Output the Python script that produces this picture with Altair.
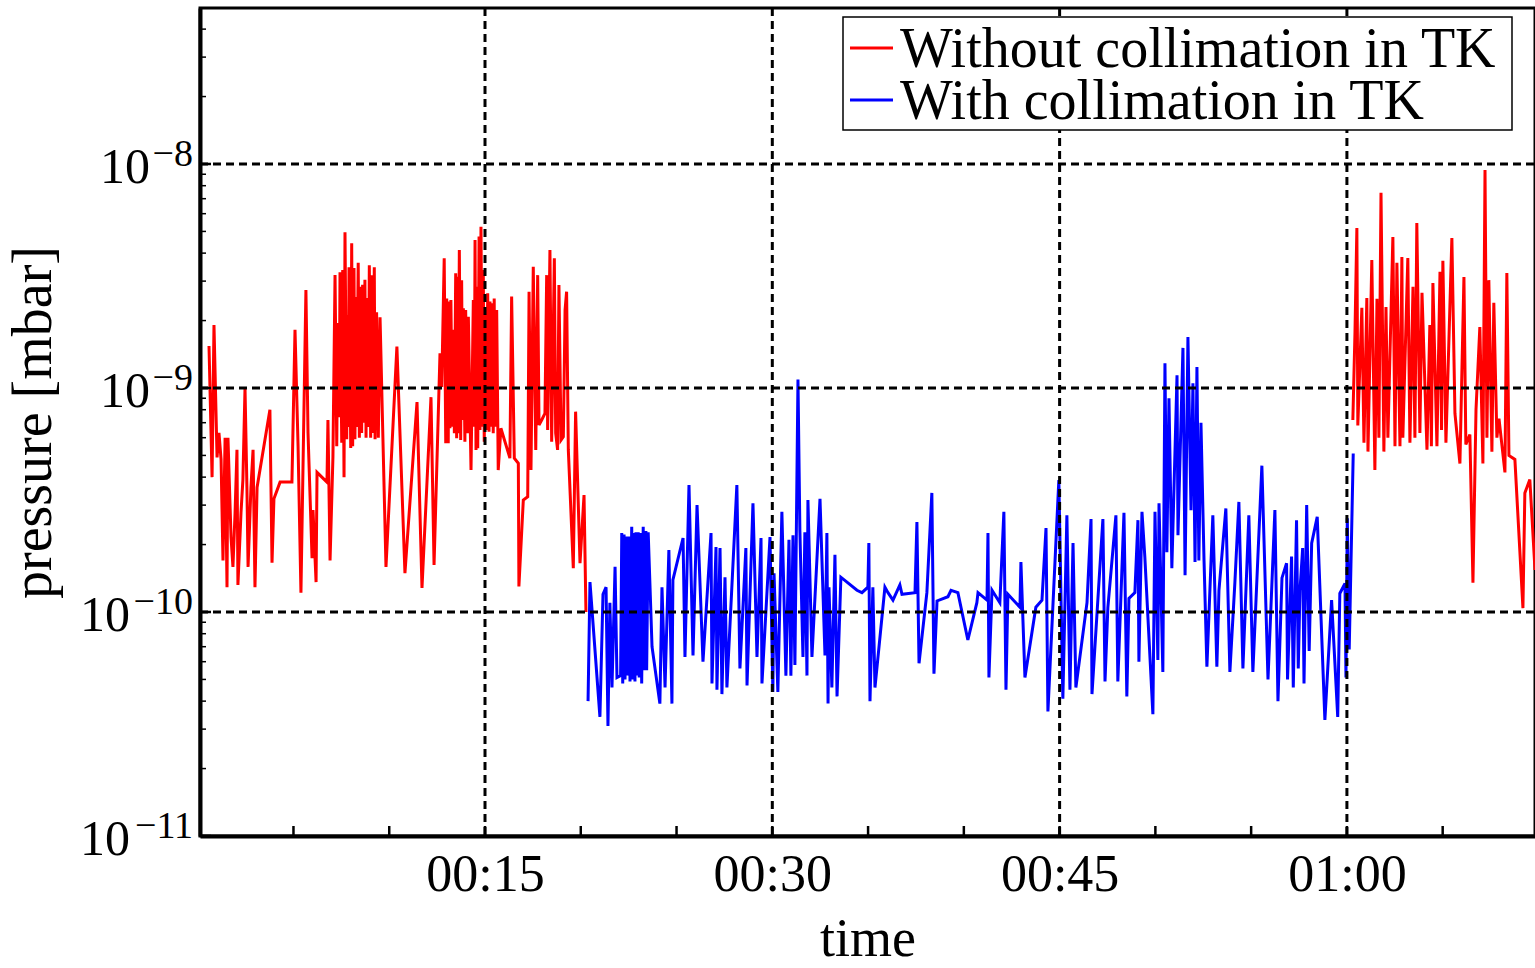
import altair as alt
import pandas as pd

# ---------------- data (time in minutes, pressure in units of 1e-10 mbar) ----------------
P_UNIT = 1e-10
series_names = ["Without collimation in TK", "With collimation in TK"]
series_colors = ["#ff0000", "#0000ff"]

red_a = [
    (0.59, 15.4), (0.75, 4.0), (0.85, 19.1), (1.01, 4.9), (1.11, 6.3), (1.22, 4.8), (1.32, 1.7), (1.43, 6.0), (1.53, 1.29), (1.58, 6.0),
    (1.74, 2.16), (1.84, 1.59), (1.95, 2.77), (2.05, 5.3), (2.10, 1.32), (2.26, 2.77), (2.36, 3.9), (2.47, 10.0), (2.57, 3.6), (2.63, 1.59),
    (2.78, 3.6), (2.89, 5.3), (2.99, 1.29), (3.10, 3.6), (3.77, 8.0), (3.88, 1.66), (3.98, 3.2), (4.30, 3.8), (4.92, 3.8), (5.08, 18.2),
    (5.24, 5.5), (5.39, 1.22), (5.65, 27.4), (5.76, 6.3), (5.97, 1.74), (6.02, 2.85), (6.18, 1.36), (6.23, 4.2), (6.75, 3.8), (6.80, 7.2),
    (6.91, 1.7), (7.06, 4.9),
    (7.17, 31.9), (7.26, 5.5), (7.31, 19.5), (7.39, 7.4), (7.43, 32.9), (7.52, 5.7), (7.57, 33.6), (7.64, 4.0), (7.69, 49.6), (7.78, 5.9),
    (7.81, 21.1), (7.86, 6.7), (7.90, 34.6), (7.99, 5.4), (8.04, 44.3), (8.09, 5.5), (8.16, 34.3), (8.21, 5.9), (8.26, 25.5), (8.30, 6.7),
    (8.38, 36.2), (8.44, 6.0), (8.51, 28.3), (8.56, 6.3), (8.61, 28.9), (8.68, 7.0), (8.73, 30.4), (8.79, 6.0), (8.82, 25.2), (8.91, 6.7),
    (8.96, 35.3), (9.03, 6.0), (9.08, 31.9), (9.14, 6.3), (9.22, 34.6), (9.26, 5.9), (9.34, 21.8), (9.43, 6.0), (9.52, 20.7),
    (9.83, 1.59), (10.40, 15.3), (10.82, 1.49), (11.45, 8.66), (11.71, 1.28), (12.18, 9.1), (12.34, 1.62), (12.65, 14.3),
    (12.74, 10.1), (12.87, 37.9), (12.95, 5.67), (13.00, 25.1), (13.08, 5.67), (13.12, 24.3), (13.17, 6.61), (13.22, 24.7), (13.29, 6.72), (13.34, 18.2),
    (13.40, 6.28), (13.47, 32.5), (13.52, 5.96), (13.57, 31.4), (13.60, 6.28), (13.66, 41.3), (13.73, 5.86), (13.78, 30.3), (13.83, 7.2), (13.87, 22.7),
    (13.95, 5.76), (13.99, 22.3), (14.10, 6.28), (14.13, 20.8), (14.27, 4.3), (14.39, 24.7), (14.44, 6.72), (14.48, 45.8), (14.53, 5.29), (14.57, 28.3),
    (14.62, 5.38), (14.69, 47.4), (14.74, 6.49), (14.79, 52.5), (14.86, 6.72), (14.91, 33.6), (14.96, 5.76), (15.04, 22.3), (15.09, 6.49), (15.14, 26.5),
    (15.21, 6.38), (15.26, 24.3), (15.31, 6.72), (15.38, 23.9), (15.43, 6.28), (15.48, 25.1), (15.52, 6.72), (15.61, 22.3), (15.69, 4.3), (15.83, 6.61),
    (16.30, 4.86), (16.39, 25.6), (16.53, 4.86), (16.74, 4.61), (16.77, 1.30), (17.00, 3.16), (17.23, 3.27), (17.30, 26.9), (17.40, 4.3), (17.52, 34.8),
    (17.65, 5.29), (17.75, 31.9), (17.82, 6.84), (17.96, 7.2), (18.13, 7.71), (18.22, 31.9), (18.27, 6.49), (18.39, 41.3), (18.48, 5.76), (18.62, 37.9),
    (18.69, 6.28), (18.79, 5.29), (18.86, 28.8), (18.97, 5.86), (19.09, 6.06), (19.18, 22.3), (19.26, 26.9), (19.35, 5.29), (19.61, 1.57), (19.73, 7.84),
    (19.96, 1.65), (20.17, 3.33), (20.27, 1.0),
]

blue = [
    (20.38, 0.40), (20.48, 1.36), (21.00, 0.34), (21.16, 1.20), (21.32, 1.29), (21.42, 0.31), (21.52, 1.10), (21.63, 0.46), (21.79, 1.59), (21.89, 0.51),
    (22.08, 0.52), (22.14, 2.25), (22.19, 0.48), (22.26, 2.22), (22.31, 0.50), (22.40, 2.17), (22.43, 0.52), (22.53, 2.17), (22.57, 0.49), (22.66, 2.40),
    (22.71, 0.50), (22.78, 2.25), (22.83, 0.49), (22.88, 2.27), (22.95, 0.52), (23.00, 2.27), (23.05, 0.51), (23.13, 2.25), (23.18, 0.48), (23.26, 2.40),
    (23.30, 0.55), (23.40, 2.30), (23.44, 0.55), (23.52, 2.27),
    (23.72, 0.70), (24.13, 0.39), (24.24, 1.29), (24.40, 0.46), (24.60, 1.89), (24.76, 0.39), (24.81, 1.39), (25.34, 2.14), (25.44, 0.63), (25.65, 3.69),
    (25.86, 0.64), (26.07, 3.0), (26.38, 0.60), (26.80, 2.25), (26.85, 0.48), (27.06, 1.95), (27.11, 0.45), (27.27, 1.93), (27.37, 0.43), (27.53, 1.43),
    (27.63, 0.46), (28.15, 3.69), (28.31, 0.56), (28.62, 1.93), (28.68, 0.47), (28.99, 3.06), (29.20, 0.63), (29.41, 2.14), (29.46, 0.48), (29.88, 2.16),
    (30.03, 0.44), (30.09, 1.49), (30.29, 0.44), (30.50, 2.8), (30.71, 0.52), (30.87, 2.1), (30.97, 0.52), (31.08, 2.2), (31.18, 0.58), (31.34, 10.9),
    (31.44, 2.3), (31.60, 0.63), (31.70, 2.27), (31.81, 0.52), (31.86, 3.16), (32.07, 0.63), (32.49, 3.2), (32.75, 0.64), (32.85, 2.25), (32.91, 0.39),
    (32.96, 1.29), (33.11, 0.46), (33.27, 1.8), (33.38, 0.42), (33.58, 1.43), (34.42, 1.25), (34.68, 1.22), (34.99, 1.29), (35.04, 2.03), (35.10, 0.40),
    (35.25, 1.29), (35.36, 0.46), (35.88, 1.29), (36.04, 1.22), (36.30, 1.13), (36.66, 1.32), (36.77, 1.20), (37.45, 1.22), (37.55, 2.52), (37.66, 0.59),
    (38.07, 1.22), (38.33, 3.4), (38.44, 0.53), (38.60, 1.12), (39.17, 1.17), (39.33, 1.25), (39.69, 1.22), (40.21, 0.75), (40.68, 1.10), (40.74, 1.22),
    (41.21, 1.13), (41.26, 2.25), (41.31, 0.51), (41.47, 1.25), (41.88, 1.10), (42.09, 2.8), (42.20, 0.45), (42.30, 1.20), (42.93, 1.05), (42.98, 1.67),
    (43.19, 0.51), (43.76, 1.05), (44.08, 1.13), (44.29, 2.37), (44.39, 0.36), (44.96, 3.88), (45.17, 0.41), (45.38, 2.7), (45.54, 0.45), (45.70, 2.03),
    (45.85, 0.46), (46.43, 1.10), (46.64, 2.6), (46.69, 0.43), (47.26, 2.6), (47.37, 0.49), (47.52, 1.05), (47.94, 2.7), (48.04, 0.49), (48.36, 2.77),
    (48.51, 0.42), (48.62, 1.15), (48.93, 1.22), (49.09, 2.57), (49.14, 0.60), (49.30, 2.8), (49.45, 1.76), (49.87, 0.35), (49.98, 2.8), (50.13, 0.61),
    (50.19, 3.06), (50.39, 0.54), (50.50, 12.9), (50.60, 1.85), (50.71, 9.0), (50.86, 1.57), (51.13, 11.4), (51.18, 2.2), (51.44, 15.1), (51.55, 1.46),
    (51.70, 16.9), (51.86, 2.85), (51.96, 10.5), (52.07, 1.67), (52.17, 12.4), (52.27, 1.70), (52.38, 7.0), (52.54, 1.70), (52.69, 0.57), (53.00, 2.7),
    (53.21, 0.57), (53.32, 1.25), (53.68, 2.9), (53.89, 0.54), (54.15, 1.35), (54.36, 3.1), (54.57, 0.56), (54.88, 2.7), (55.09, 0.54), (55.56, 4.5),
    (55.88, 0.50), (56.24, 2.85), (56.40, 0.40), (56.61, 1.42), (56.85, 1.65), (56.90, 0.50), (57.11, 1.77), (57.20, 0.46), (57.37, 2.57), (57.46, 0.56),
    (57.55, 1.25), (57.69, 1.93), (57.76, 0.48), (57.90, 3.0), (58.03, 0.67), (58.16, 2.03), (58.45, 2.66), (58.85, 0.33), (59.20, 1.13), (59.52, 0.34),
    (59.63, 1.21), (59.90, 1.34), (59.95, 0.51), (60.02, 2.62), (60.12, 0.68), (60.33, 5.1),
]

red_b = [
    (60.31, 7.2), (60.42, 17.6), (60.52, 51.8), (60.57, 6.8), (60.78, 22.8), (60.89, 5.7), (61.04, 25.2), (61.10, 5.2), (61.30, 37.3), (61.46, 4.3),
    (61.57, 25.0), (61.67, 6.0), (61.78, 74.3), (61.93, 5.2), (62.04, 23.0), (62.14, 6.0), (62.40, 47.2), (62.51, 5.5), (62.61, 36.2), (62.77, 5.5),
    (62.87, 38.4), (62.92, 6.0), (63.18, 38.0), (63.29, 5.7), (63.45, 28.3), (63.55, 6.0), (63.65, 54.5), (63.81, 6.3), (63.92, 26.6), (64.18, 5.3),
    (64.33, 19.1), (64.41, 5.5), (64.49, 29.4), (64.70, 5.5), (64.86, 33.0), (64.94, 6.5), (65.01, 37.0), (65.17, 5.7), (65.48, 46.7), (65.64, 7.7),
    (65.90, 4.6), (66.11, 31.3), (66.21, 5.6), (66.42, 6.2), (66.58, 1.35), (66.74, 8.0), (66.94, 18.7), (67.10, 4.6), (67.21, 94.0), (67.31, 6.0),
    (67.41, 30.3), (67.57, 5.2), (67.67, 24.0), (67.83, 6.0), (67.94, 7.3), (68.25, 4.2), (68.35, 32.6), (68.46, 5.0), (68.77, 4.8), (69.19, 1.04),
    (69.29, 3.4), (69.55, 3.9), (69.82, 1.54),
]

x_grid = [15, 30, 45, 60]
x_ticks = [5, 10, 15, 20, 25, 30, 35, 40, 45, 50, 55, 60, 65]
y_exponents = [-8, -9, -10, -11]

# ---------------- build tables ----------------
rows = []
for seg, (pts, name) in enumerate([(red_a, series_names[0]), (blue, series_names[1]), (red_b, series_names[0])]):
    for t, p in pts:
        rows.append({"t": t, "p": p * P_UNIT, "series": name, "seg": seg})
df = pd.DataFrame(rows)

major_p = [10.0 ** e for e in y_exponents]
minor_p = [m * 10.0 ** e for e in [-11, -10, -9, -8] for m in range(2, 10) if m * 10.0 ** e < 5e-8]
lab_df = pd.DataFrame({"p": major_p, "e": y_exponents,
                       "exp": ["\u2212" + str(-e) for e in y_exponents]})

W, H = 1335, 828
FONT = "Liberation Serif"
xs = alt.Scale(domain=[0.12, 69.82], nice=False, zero=False)
ys = alt.Scale(type="log", domain=[1e-11, 4.97e-8], nice=False)

lines = alt.Chart(df).mark_line(strokeWidth=3, clip=True).encode(
    x=alt.X("t:Q", scale=xs, axis=alt.Axis(
        values=x_grid, grid=False, ticks=False, tickSize=0, domainColor="black", domainWidth=4,
        labelExpr="datum.value < 60 ? '00:' + datum.value : '01:00'",
        labelFont=FONT, labelFontSize=52, labelColor="black", labelPadding=13,
        title="time", titleFont=FONT, titleFontSize=54, titleFontWeight="normal", titleColor="black",
        titleBaseline="alphabetic", titleY=119)),
    y=alt.Y("p:Q", scale=ys, axis=alt.Axis(
        labels=False, ticks=False, tickSize=0, grid=False, domainColor="black", domainWidth=4,
        title="pressure [mbar]", titleFont=FONT, titleFontSize=56, titleFontWeight="normal",
        titleColor="black", titleBaseline="alphabetic", titleX=-150, titleY=H / 2)),
    color=alt.Color("series:N", scale=alt.Scale(domain=series_names, range=series_colors), legend=None),
    detail="seg:N",
    order="t:Q",
)

dash = dict(strokeDash=[8, 5], strokeWidth=3, color="black")
grid_x = alt.Chart(pd.DataFrame({"t": x_grid})).mark_rule(**dash).encode(
    x=alt.X("t:Q", scale=xs), y=alt.value(0), y2=alt.value(H))
grid_y = alt.Chart(pd.DataFrame({"p": major_p[:3]})).mark_rule(**dash).encode(
    y=alt.Y("p:Q", scale=ys), x=alt.value(0), x2=alt.value(W))

tick_x = alt.Chart(pd.DataFrame({"t": x_ticks})).mark_rule(color="black", strokeWidth=2.5).encode(
    x=alt.X("t:Q", scale=xs), y=alt.value(H), y2=alt.value(H - 10))
tick_y_major = alt.Chart(pd.DataFrame({"p": major_p})).mark_rule(color="black", strokeWidth=2.5).encode(
    y=alt.Y("p:Q", scale=ys), x=alt.value(0), x2=alt.value(11))
tick_y_minor = alt.Chart(pd.DataFrame({"p": minor_p})).mark_rule(color="black", strokeWidth=1.5).encode(
    y=alt.Y("p:Q", scale=ys), x=alt.value(0), x2=alt.value(6))

# y tick labels: "10" with a raised exponent
exp_text = alt.Chart(lab_df).mark_text(font=FONT, fontSize=38, align="right", baseline="alphabetic",
                                       dy=2, color="black").encode(
    y=alt.Y("p:Q", scale=ys), x=alt.value(-7), text="exp:N")
base_short = alt.Chart(lab_df).transform_filter("datum.e > -10").mark_text(
    font=FONT, fontSize=50, align="right", baseline="alphabetic", dy=19, color="black").encode(
    y=alt.Y("p:Q", scale=ys), x=alt.value(-50), text=alt.value("10"))
base_long = alt.Chart(lab_df).transform_filter("datum.e <= -10").mark_text(
    font=FONT, fontSize=50, align="right", baseline="alphabetic", dy=19, color="black").encode(
    y=alt.Y("p:Q", scale=ys), x=alt.value(-70), text=alt.value("10"))

# legend box
one = pd.DataFrame({"a": [0]})
leg_box = alt.Chart(one).mark_rect(fill="white", stroke="black", strokeWidth=1.5).encode(
    x=alt.value(643), x2=alt.value(1312), y=alt.value(9), y2=alt.value(122))
leg_layers = []
for i, (name, col) in enumerate(zip(series_names, series_colors)):
    leg_layers.append(alt.Chart(one).mark_rule(color=col, strokeWidth=3).encode(
        x=alt.value(650), x2=alt.value(693), y=alt.value(40 + 52 * i)))
    leg_layers.append(alt.Chart(one).mark_text(font=FONT, fontSize=56, align="left",
                                               baseline="alphabetic", color="black").encode(
        x=alt.value(700), y=alt.value(59 + 52 * i), text=alt.value(name)))

chart = alt.layer(
    lines, grid_x, grid_y, tick_x, tick_y_major, tick_y_minor,
    exp_text, base_short, base_long, leg_box, *leg_layers
).properties(
    width=W, height=H,
    padding={"left": 200, "top": 8, "right": 0, "bottom": 132},
    autosize=alt.AutoSizeParams(type="none"),
    background="white",
).configure_view(stroke="black", strokeWidth=3)

chart.save("out.html", embed_options={"renderer": "svg", "actions": False})
